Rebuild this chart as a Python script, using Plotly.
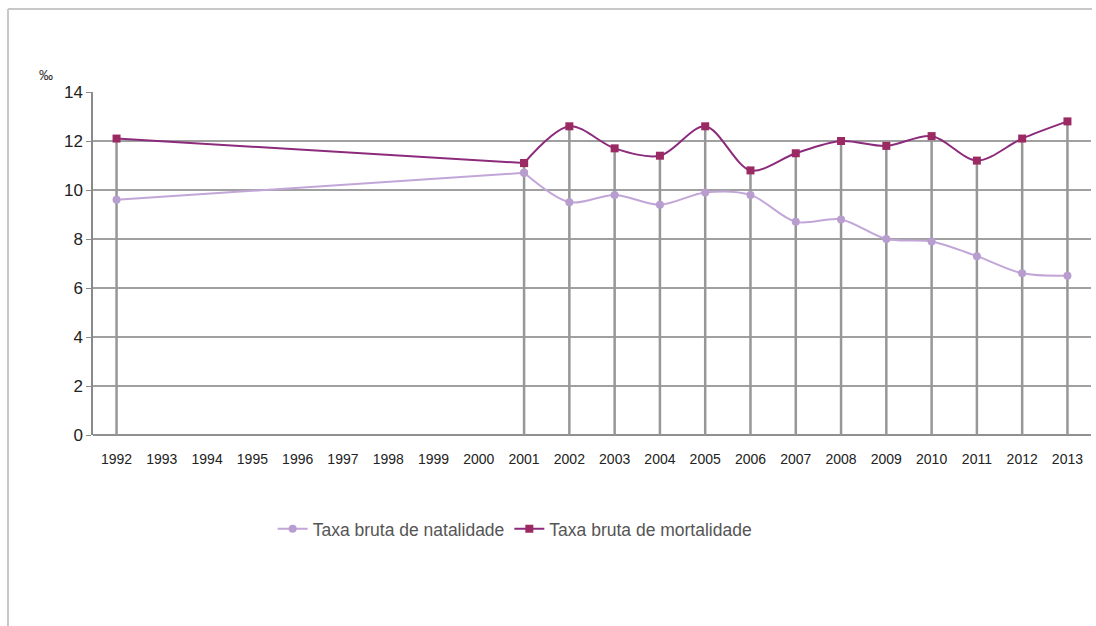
import plotly.graph_objects as go

# Crude birth and death rates (per thousand inhabitants)
years = list(range(1992, 2014))
natalidade = [9.6, None, None, None, None, None, None, None, None, 10.7,
              9.5, 9.8, 9.4, 9.9, 9.8, 8.7, 8.8, 8.0, 7.9, 7.3, 6.6, 6.5]
mortalidade = [12.1, None, None, None, None, None, None, None, None, 11.1,
               12.6, 11.7, 11.4, 12.6, 10.8, 11.5, 12.0, 11.8, 12.2, 11.2, 12.1, 12.8]
year_labels = [str(y) for y in years]
y_ticks = [0, 2, 4, 6, 8, 10, 12, 14]

FONT = "Liberation Sans, Arial, sans-serif"
ANNUAL_FROM = 2001  # yearly series start here; before that only 1992

# Drop lines from the highest value of each observed year down to zero
drop_x, drop_y = [], []
for yr, n, m in zip(years, natalidade, mortalidade):
    if n is None and m is None:
        continue
    top = max(v for v in (n, m) if v is not None)
    drop_x += [yr, yr, None]
    drop_y += [top, 0, None]

fig = go.Figure()
fig.add_trace(go.Scatter(
    x=drop_x, y=drop_y, mode="lines",
    line=dict(color="#979797", width=2.5),
    showlegend=False, hoverinfo="skip",
))


def add_series(values, name, line_color, marker_color, symbol):
    obs = [(x, v) for x, v in zip(years, values) if v is not None]
    early = [(x, v) for x, v in obs if x <= ANNUAL_FROM]
    annual = [(x, v) for x, v in obs if x >= ANNUAL_FROM]
    marker = dict(symbol=symbol, size=8, color=marker_color)
    # straight link across the years without data
    fig.add_trace(go.Scatter(
        x=[p[0] for p in early], y=[p[1] for p in early],
        mode="lines+markers", legendgroup=name, showlegend=False,
        line=dict(color=line_color, width=2), marker=marker,
    ))
    # smoothed annual series
    fig.add_trace(go.Scatter(
        x=[p[0] for p in annual], y=[p[1] for p in annual],
        name=name, legendgroup=name, mode="lines+markers",
        line=dict(color=line_color, width=2, shape="spline", smoothing=0.9),
        marker=marker,
    ))


add_series(natalidade, "Taxa bruta de natalidade", "#c3a6d8", "#b89dcf", "circle")
add_series(mortalidade, "Taxa bruta de mortalidade", "#8c2a7c", "#9c2a62", "square")

# Outer frame (top and left edges)
fig.add_shape(type="line", xref="paper", yref="paper",
              x0=-0.0852, x1=1.001, y0=1.242, y1=1.242,
              line=dict(color="#c8c8c8", width=2))
fig.add_shape(type="line", xref="paper", yref="paper",
              x0=-0.0852, x1=-0.0852, y0=1.242, y1=-0.6,
              line=dict(color="#c8c8c8", width=2))

fig.add_annotation(text="‰", xref="paper", yref="paper",
                   x=-0.056, y=1.08, showarrow=False,
                   font=dict(family=FONT, size=14, color="#333333"))

fig.update_layout(
    width=1096, height=626,
    margin=dict(l=93, r=5, t=92, b=191),
    paper_bgcolor="white", plot_bgcolor="white",
    font=dict(family=FONT, color="#333333"),
    legend=dict(orientation="h", x=0.423, xanchor="center",
                y=-0.274, yanchor="middle",
                font=dict(family=FONT, size=17.5, color="#555555")),
    xaxis=dict(
        range=[1991.48, 2013.52], tickmode="array",
        tickvals=years, ticktext=year_labels,
        showgrid=False, zeroline=False, showline=False, ticks="",
        ticklabelstandoff=14,
        tickfont=dict(family=FONT, size=14, color="#222222"),
    ),
    yaxis=dict(
        range=[0, 14], tickmode="array", tickvals=y_ticks,
        showgrid=True, gridcolor="#a0a0a0", gridwidth=1.5,
        zeroline=True, zerolinecolor="#909090", zerolinewidth=1.5,
        showline=True, linecolor="#8a8a8a", linewidth=1.5,
        ticks="outside", ticklen=5, tickcolor="#8a8a8a",
        tickfont=dict(family=FONT, size=17, color="#222222"),
    ),
)

fig.write_html("out.html")
